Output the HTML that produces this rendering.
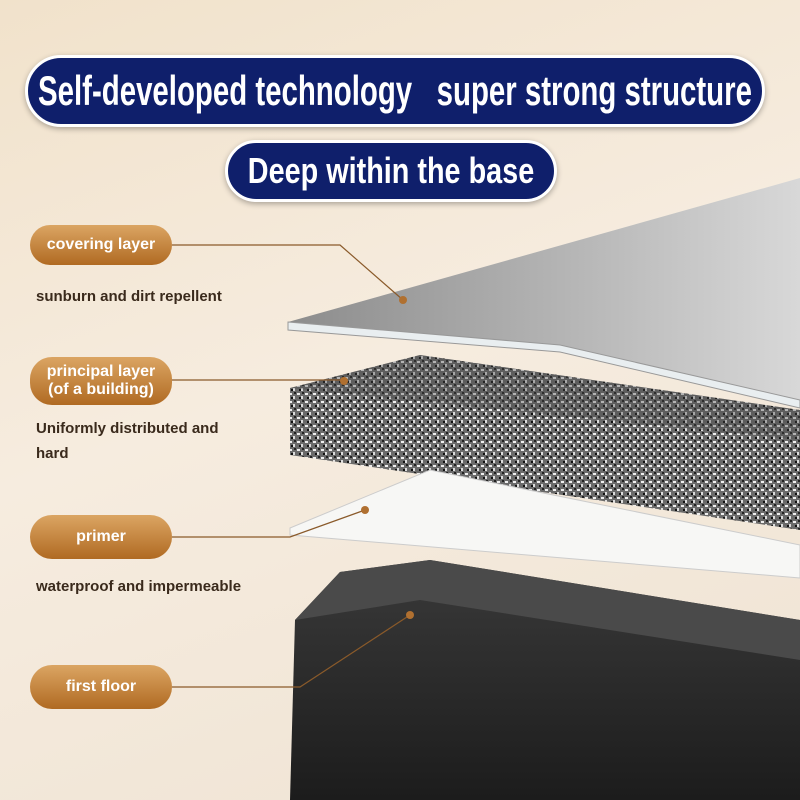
<!DOCTYPE html>
<html><head><meta charset="utf-8"><style>
html,body{margin:0;padding:0}
body{width:800px;height:800px;overflow:hidden;position:relative;background:linear-gradient(160deg,#f1e2cb 0%,#f6ecdf 45%,#efe3d3 100%);font-family:"Liberation Sans",sans-serif}
.ban{position:absolute;background:#0f1f6b;border:3px solid #fff;border-radius:40px;color:#fff;font-weight:bold;box-shadow:0 2px 6px rgba(0,0,0,.3);white-space:nowrap;overflow:hidden}
.ban span{position:absolute;left:50%;top:0;white-space:nowrap}
.pill{position:absolute;left:30px;width:142px;border-radius:22px;background:linear-gradient(180deg,#dba563,#b06a22);color:#fff;font-weight:bold;font-size:16px;text-align:center;display:flex;align-items:center;justify-content:center;line-height:18px}
.t{position:absolute;left:36px;color:#3a2a1c;font-size:15px;font-weight:bold;line-height:25px}
svg{position:absolute;left:0;top:0}
</style></head><body>
<svg width="800" height="800">
<defs>
<pattern id="gr" width="8" height="8" patternUnits="userSpaceOnUse"><rect width="8" height="8" fill="#6a6a6a"/><rect x="1" y="1" width="3" height="2" fill="#eee"/><rect x="5" y="4" width="2" height="3" fill="#ddd"/><rect x="3" y="5" width="2" height="2" fill="#111"/><rect x="6" y="0" width="2" height="2" fill="#222"/></pattern>
<linearGradient id="gl" x1="0" y1="0" x2="1" y2="0"><stop offset="0" stop-color="#8c8c8c"/><stop offset="0.6" stop-color="#b9b9b9"/><stop offset="1" stop-color="#d8d8d8"/></linearGradient>
<linearGradient id="rk" x1="0" y1="0" x2="0" y2="1"><stop offset="0" stop-color="#3a3a3a"/><stop offset="1" stop-color="#1c1c1c"/></linearGradient>
</defs>
<polygon points="288,322 800,178 800,400 560,345" fill="url(#gl)"/>
<polygon points="288,322 560,345 800,400 800,408 560,352 288,330" fill="#e9eef0" stroke="#999" stroke-width="1"/>
<polygon points="290,388 420,355 800,410 800,530 290,455" fill="url(#gr)"/>
<polygon points="290,388 420,355 800,410 800,440" fill="#444" opacity=".35"/>
<polygon points="290,528 430,470 800,545 800,578 290,535" fill="#f7f7f5" stroke="#ccc"/>
<polygon points="295,620 340,572 430,560 800,620 800,800 290,800" fill="url(#rk)"/>
<polygon points="295,620 340,572 430,560 800,620 800,660 420,600" fill="#4a4a4a"/>
<g stroke="#8a5a2a" stroke-width="1.2" fill="none">
<polyline points="172,245 340,245 403,300"/>
<polyline points="172,380 344,380"/>
<polyline points="172,537 290,537 365,510"/>
<polyline points="172,687 300,687 410,615"/>
</g>
<g fill="#b07030"><circle cx="403" cy="300" r="4"/><circle cx="344" cy="381" r="4"/><circle cx="365" cy="510" r="4"/><circle cx="410" cy="615" r="4"/></g>
</svg>
<div class="ban" style="left:25px;top:55px;width:734px;height:66px;line-height:66px;font-size:42px"><span style="transform:translateX(-50%) scaleX(0.70)">Self-developed technology&nbsp;&nbsp;&nbsp;super strong structure</span></div>
<div class="ban" style="left:225px;top:140px;width:326px;height:56px;line-height:56px;font-size:36px"><span style="transform:translateX(-50%) scaleX(0.80)">Deep within the base</span></div>
<div class="pill" style="top:225px;height:40px">covering layer</div>
<div class="t" style="top:284px">sunburn and dirt repellent</div>
<div class="pill" style="top:357px;height:48px">principal layer<br>(of a building)</div>
<div class="t" style="top:416px">Uniformly distributed and<br>hard</div>
<div class="pill" style="top:515px;height:44px">primer</div>
<div class="t" style="top:574px">waterproof and impermeable</div>
<div class="pill" style="top:665px;height:44px">first floor</div>
</body></html>
